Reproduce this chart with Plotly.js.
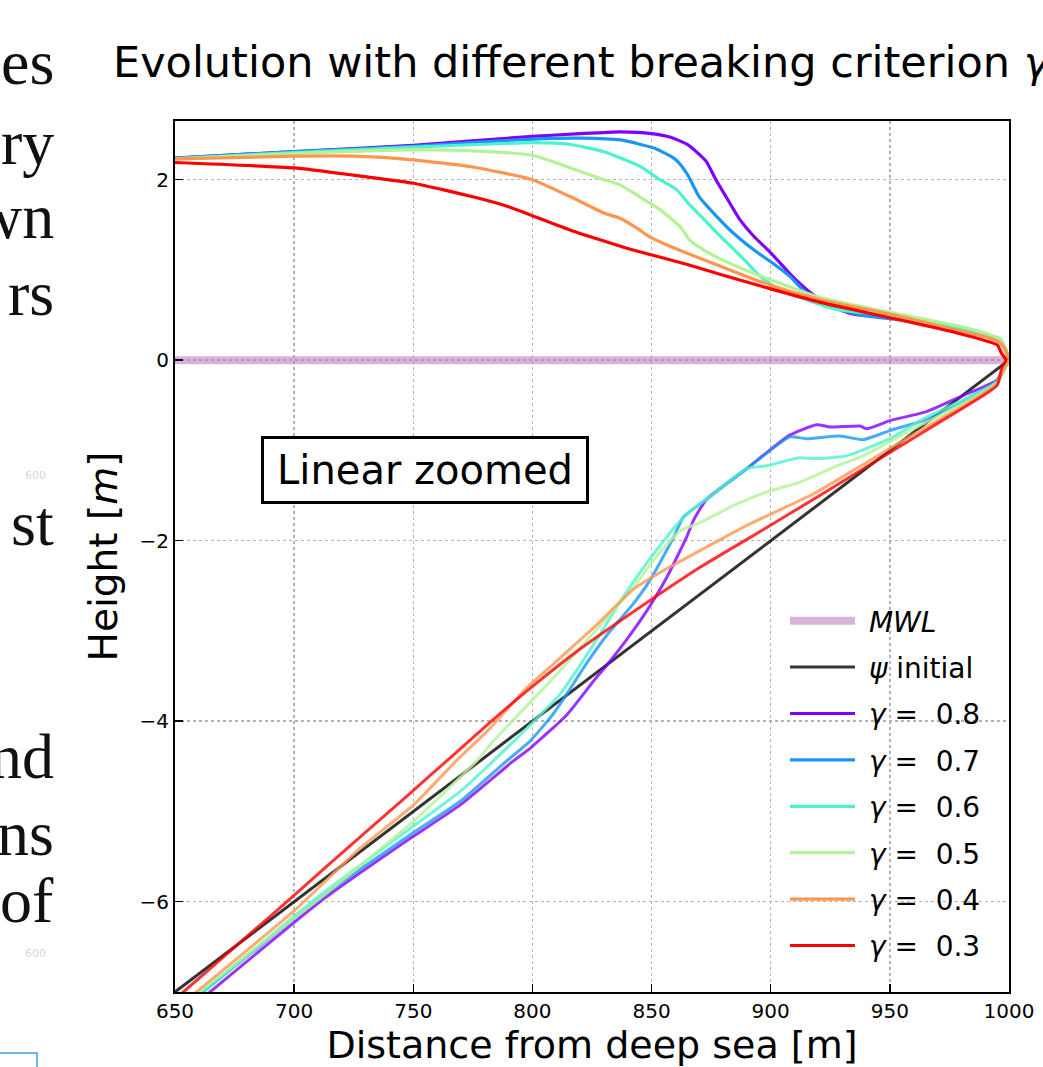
<!DOCTYPE html>
<html><head><meta charset="utf-8">
<script src="https://cdn.plot.ly/plotly-3.0.1.min.js"></script>
<style>html,body{margin:0;padding:0;background:#fff;}#chart{width:1043px;height:1067px;}</style>
</head><body><div id="chart"></div>
<script>
// ---------------- data ----------------
const mwlX = [650, 1000];
const mwlY = [0, 0];
const psiX = [650, 1000];
const psiY = [-7, 0];

const gammaLabels = ['0.8', '0.7', '0.6', '0.5', '0.4', '0.3'];

// gamma = 0.8
const g08UpperX = [650, 700, 750, 800, 820, 837, 850, 858, 865, 870, 873, 877, 881.5, 887, 893, 900, 908, 913, 917, 924, 928, 935, 950, 965, 980, 990, 996, 998.5, 1000];
const g08UpperY = [2.24, 2.31, 2.38, 2.48, 2.51, 2.53, 2.51, 2.47, 2.39, 2.28, 2.20, 2.00, 1.80, 1.56, 1.37, 1.19, 0.96, 0.83, 0.74, 0.62, 0.57, 0.51, 0.47, 0.41, 0.34, 0.27, 0.21, 0.12, 0.0];
const g08LowerX = [650, 664.7, 710.8, 748.6, 769.6, 792, 799, 814.4, 825.5, 831.2, 840, 847.9, 856.3, 864.7, 867.5, 873.1, 890, 908, 919.3, 925, 937.5, 940.3, 950, 965.4, 980, 995, 998, 1000];
const g08LowerY = [-7.32, -7.0, -6.0, -5.30, -4.93, -4.44, -4.30, -3.93, -3.56, -3.38, -3.08, -2.78, -2.41, -1.96, -1.78, -1.54, -1.20, -0.83, -0.715, -0.74, -0.73, -0.76, -0.67, -0.57, -0.40, -0.22, -0.08, 0.0];

// gamma = 0.7
const g07UpperX = [650, 700, 750, 800, 820, 837, 851, 858, 861, 865, 870, 876, 883, 893, 900, 908, 915, 921, 928, 940, 950, 960, 976, 990, 996, 998.5, 1000];
const g07UpperY = [2.24, 2.31, 2.37, 2.45, 2.46, 2.44, 2.35, 2.26, 2.20, 2.06, 1.81, 1.63, 1.44, 1.22, 1.09, 0.93, 0.74, 0.66, 0.57, 0.49, 0.46, 0.43, 0.34, 0.27, 0.21, 0.12, 0.0];
const g07LowerX = [650, 661.8, 710.8, 748.6, 769.6, 789.2, 799, 808.7, 814.4, 822.7, 832, 842.3, 849.3, 859.1, 863.3, 873.1, 890, 908, 915, 929, 938.8, 950, 964, 980, 995, 998, 1000];
const g07LowerY = [-7.25, -7.0, -5.96, -5.26, -4.89, -4.44, -4.22, -3.92, -3.70, -3.36, -3.02, -2.70, -2.44, -1.97, -1.74, -1.54, -1.20, -0.85, -0.87, -0.84, -0.88, -0.78, -0.67, -0.47, -0.23, -0.10, 0.0];

// gamma = 0.6
const g06UpperX = [650, 700, 750, 800, 816, 830, 837, 845, 853.5, 860.5, 866, 872, 879, 889, 895.5, 902.5, 915, 928, 950, 976.6, 990, 996, 998.5, 1000];
const g06UpperY = [2.23, 2.30, 2.36, 2.41, 2.39, 2.31, 2.24, 2.15, 2.00, 1.89, 1.72, 1.56, 1.37, 1.11, 0.93, 0.80, 0.67, 0.56, 0.50, 0.37, 0.29, 0.24, 0.13, 0.0];
const g06LowerX = [650, 661.8, 710.8, 748.6, 769.6, 783.6, 797.6, 811.6, 828.3, 836.7, 846.5, 856.3, 862, 866, 873, 890, 898.3, 912, 919.3, 931.8, 950, 965.4, 980, 995, 998, 1000];
const g06LowerY = [-7.26, -7.0, -5.93, -5.19, -4.78, -4.44, -4.08, -3.70, -3.04, -2.68, -2.30, -1.96, -1.78, -1.68, -1.54, -1.20, -1.17, -1.08, -1.09, -1.06, -0.87, -0.63, -0.45, -0.24, -0.10, 0.0];

// gamma = 0.5
const g05UpperX = [650, 700, 750, 775, 800, 816, 830, 837, 845, 853.5, 862, 866, 872, 879, 893, 900, 920, 950, 977, 990, 996, 998.5, 1000];
const g05UpperY = [2.23, 2.29, 2.33, 2.32, 2.27, 2.13, 2.00, 1.94, 1.81, 1.67, 1.48, 1.33, 1.22, 1.12, 0.96, 0.89, 0.70, 0.53, 0.39, 0.30, 0.23, 0.13, 0.0];
const g05LowerX = [650, 660, 709, 750, 776.6, 783.6, 797.6, 806, 820, 842.3, 850.7, 862, 870.3, 880, 884.3, 898.3, 912.3, 926.2, 940.3, 960, 980, 995, 998, 1000];
const g05LowerY = [-7.22, -7.0, -6.0, -5.11, -4.44, -4.22, -3.83, -3.60, -3.19, -2.52, -2.22, -1.89, -1.80, -1.67, -1.61, -1.46, -1.35, -1.19, -1.04, -0.76, -0.49, -0.25, -0.10, 0.0];

// gamma = 0.4
const g04UpperX = [650, 700, 725, 750, 775, 800, 816, 830, 837, 844, 849, 858, 879, 900, 921, 950, 977, 990, 996, 998.5, 1000];
const g04UpperY = [2.23, 2.26, 2.26, 2.22, 2.14, 2.00, 1.81, 1.63, 1.57, 1.46, 1.37, 1.26, 1.04, 0.83, 0.67, 0.51, 0.34, 0.26, 0.20, 0.11, 0.0];
const g04LowerX = [650, 659, 699.6, 727.6, 750, 768, 781, 797.6, 811.6, 827, 842.3, 855, 870.3, 890, 918, 936, 960, 980, 995, 998, 1000];
const g04LowerY = [-7.20, -7.0, -6.11, -5.41, -4.93, -4.44, -4.11, -3.63, -3.30, -2.93, -2.54, -2.33, -2.11, -1.83, -1.48, -1.20, -0.82, -0.52, -0.26, -0.10, 0.0];

// gamma = 0.3
const g03UpperX = [650, 700, 725, 750, 775, 790, 802, 816, 830, 841, 851, 865, 879, 900, 921, 950, 977, 995, 997, 999];
const g03UpperY = [2.19, 2.13, 2.05, 1.96, 1.81, 1.70, 1.58, 1.44, 1.32, 1.23, 1.16, 1.06, 0.95, 0.79, 0.64, 0.47, 0.31, 0.17, 0.07, 0.0];
const g03LowerX = [650, 653.5, 676, 697, 714, 749, 764, 784, 803, 820, 845, 870, 898, 923, 949, 970, 995, 997, 999];
const g03LowerY = [-7.08, -7.0, -6.48, -6.0, -5.60, -4.79, -4.44, -3.97, -3.55, -3.20, -2.74, -2.30, -1.86, -1.46, -1.04, -0.70, -0.28, -0.08, 0.0];

const xTicks = [650, 700, 750, 800, 850, 900, 950, 1000];
const yTicks = [-6, -4, -2, 0, 2];

// ---------------- styles ----------------
const gammaColors = ['#8000ff', '#1996f3', '#4cf2ce', '#b2f396', '#ff964f', '#ff0000'];
const gammaLowerColors = ['rgba(128,0,255,0.8)', 'rgba(25,150,243,0.8)', 'rgba(76,242,206,0.8)', 'rgba(178,243,150,0.8)', 'rgba(255,150,79,0.8)', 'rgba(255,0,0,0.8)'];
const upperX = [g08UpperX, g07UpperX, g06UpperX, g05UpperX, g04UpperX, g03UpperX];
const upperY = [g08UpperY, g07UpperY, g06UpperY, g05UpperY, g04UpperY, g03UpperY];
const lowerX = [g08LowerX, g07LowerX, g06LowerX, g05LowerX, g04LowerX, g03LowerX];
const lowerY = [g08LowerY, g07LowerY, g06LowerY, g05LowerY, g04LowerY, g03LowerY];

const NB = '\u00a0';
const traces = [];
traces.push({x: mwlX, y: mwlY, mode: 'lines', name: NB + '<i>MWL</i>', legendgroup: 'mwl',
  line: {color: 'rgba(191,127,191,0.6)', width: 8}, hoverinfo: 'skip'});
traces.push({x: psiX, y: psiY, mode: 'lines', name: NB + '<i>ψ</i> initial', legendgroup: 'psi',
  line: {color: 'rgba(0,0,0,0.8)', width: 3}, hoverinfo: 'skip'});
for (let i = 0; i < gammaLabels.length; i++) {
  traces.push({x: lowerX[i], y: lowerY[i], mode: 'lines', showlegend: false, legendgroup: 'g' + i,
    line: {color: gammaLowerColors[i], width: 3, shape: 'spline', smoothing: 0.5}, hoverinfo: 'skip'});
  traces.push({x: upperX[i], y: upperY[i], mode: 'lines', name: NB + '<i>γ</i> =  ' + gammaLabels[i], legendgroup: 'g' + i,
    line: {color: gammaColors[i], width: 3.2, shape: 'spline', smoothing: 0.5}, hoverinfo: 'skip'});
}

// ---------------- layout ----------------
const W = 1043, H = 1067, L = 175, R = 1009, T = 121, B = 992;
const pxX = px => (px - L) / (R - L);
const pxY = py => (B - py) / (B - T);

const sideWords = [['es', 62], ['ry', 143], ['wn', 216], ['rs', 293], ['st', 523], ['nd', 756], ['ns', 833], ['of', 900]];
const annotations = [{
  x: 755, y: -1.22, xref: 'x', yref: 'y', text: 'Linear zoomed', showarrow: false,
  font: {family: 'DejaVu Sans', size: 40, color: '#000'}, width: 306,
  bordercolor: '#000', borderwidth: 3, borderpad: 8, bgcolor: '#fff'
}];
sideWords.forEach(([w, py]) => annotations.push({
  x: pxX(56), y: pxY(py), xref: 'paper', yref: 'paper', xanchor: 'right', yanchor: 'middle',
  text: w, showarrow: false, font: {family: 'Liberation Serif', size: 64, color: '#111'}
}));
[475, 953].forEach(py => annotations.push({
  x: pxX(35), y: pxY(py), xref: 'paper', yref: 'paper', xanchor: 'center', yanchor: 'middle',
  text: '600', showarrow: false, font: {family: 'DejaVu Sans', size: 11, color: '#d6d6d6'}
}));

const axisCommon = {
  ticks: 'inside', ticklen: 8, tickwidth: 1.5, tickcolor: '#000',
  showline: true, linewidth: 2, linecolor: '#000', mirror: true,
  showgrid: true, gridcolor: '#b3b3b3', griddash: 'dot', gridwidth: 1.5,
  zeroline: false, automargin: false,
  tickfont: {family: 'DejaVu Sans', size: 20, color: '#000'}
};

const layout = {
  width: W, height: H,
  margin: {l: L, r: W - R, t: T, b: H - B, pad: 0},
  paper_bgcolor: '#fff', plot_bgcolor: '#fff',
  font: {family: 'DejaVu Sans', color: '#000'},
  title: {text: 'Evolution with different breaking criterion <i>γ</i>', xref: 'container', yref: 'container',
    x: 113 / W, xanchor: 'left', y: 1 - 62 / H, yanchor: 'middle',
    font: {family: 'DejaVu Sans', size: 43, color: '#000'}},
  xaxis: Object.assign({}, axisCommon, {range: [650, 1000], tickvals: xTicks, ticktext: xTicks.map(String),
    title: {text: 'Distance from deep sea [m]', font: {family: 'DejaVu Sans', size: 38, color: '#000'}, standoff: 6}}),
  yaxis: Object.assign({}, axisCommon, {range: [-7, 2.65], tickvals: yTicks,
    title: {text: 'Height [<i>m</i>]', font: {family: 'DejaVu Sans', size: 39, color: '#000'}, standoff: 10}}),
  showlegend: true,
  legend: {x: pxX(785), xanchor: 'left', y: pxY(596), yanchor: 'top', bgcolor: 'rgba(0,0,0,0)', borderwidth: 0,
    font: {family: 'DejaVu Sans', size: 28, color: '#000'}, itemwidth: 65, tracegroupgap: 7, traceorder: 'grouped'},
  annotations: annotations,
  shapes: [{type: 'rect', xref: 'paper', yref: 'paper', x0: pxX(-3), x1: pxX(37), y0: pxY(1075), y1: pxY(1053),
    line: {color: '#6cb8e8', width: 2}, fillcolor: 'rgba(0,0,0,0)'}]
};

Plotly.newPlot('chart', traces, layout, {displayModeBar: false, staticPlot: true});
</script>
</body></html>
